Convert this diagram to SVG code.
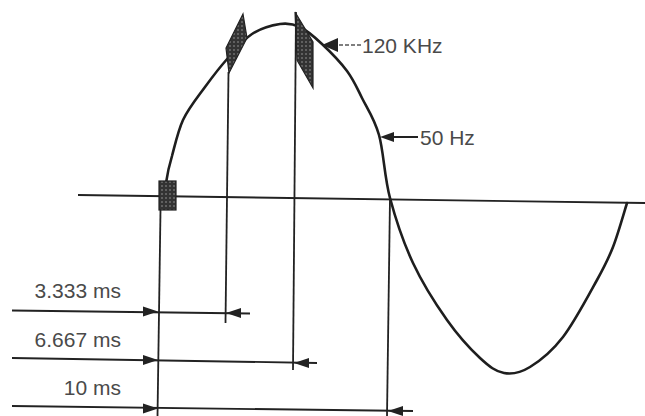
<svg xmlns="http://www.w3.org/2000/svg" width="645" height="416" viewBox="0 0 645 416">
<style>
.ln{stroke:#222;stroke-width:1.8;fill:none}
.wave{stroke:#1e1e1e;stroke-width:2.6;fill:none;stroke-linecap:round}
.hatch{fill:url(#dots);stroke:#222;stroke-width:1.2}
.lbl{font-family:"Liberation Sans",Arial,sans-serif;font-size:21px;fill:#4a4a4a}
.ah{fill:#222}
</style>
<defs>
<pattern id="dots" width="4" height="4" patternUnits="userSpaceOnUse">
<rect width="4" height="4" fill="#333"/>
<circle cx="2" cy="2" r="0.8" fill="#999"/>
</pattern>
</defs>
<rect width="645" height="416" fill="#fff"/>
<g id="axis"><line class="ln" x1="78" y1="195" x2="645" y2="203"/></g>
<g id="wave">
<path class="wave" d="M166,183 C167,176 169,166 172,156 C175,145 178,131 183,120 C188.5,108.2 197.5,97.3 205,87 C212.5,76.7 220.2,66.8 228,58 C235.8,49.2 243.3,39.7 252,34 C260.7,28.3 272,25.2 280,24 C288,22.8 293,23.7 300,27 C307,30.3 314.2,36.7 322,44 C329.8,51.3 340.3,62 347,71 C353.7,80 356.7,87.3 362,98 C367.3,108.7 374.3,118.3 379,135 C383.7,151.7 384.3,176.7 390,198 C395.7,219.3 403.5,242.7 413,263 C422.5,283.3 435.8,304.2 447,320 C458.2,335.8 470.5,349.2 480,358 C489.5,366.8 495.7,371.5 504,373 C512.3,374.5 520.2,373 530,367 C539.8,361 551.8,351.5 563,337 C574.2,322.5 588.7,295 597,280 C605.3,265 608,259.8 613,247 C618,234.2 624.7,210.3 627,203"/>
</g>
<g id="marker-start"><rect class="hatch" x="159" y="181" width="17" height="29"/></g>
<g id="marker-1"><polygon class="hatch" points="243,14 247,38 229,73 226,48"/></g>
<g id="marker-2"><polygon class="hatch" points="295,12 313,42 313,88 297,60"/></g>
<g id="label-120khz">
<text class="lbl" x="362" y="53">120 KHz</text>
</g>
<g id="label-50hz">
<text class="lbl" x="420" y="145">50 Hz</text>
</g>
<g id="label-3333"><text class="lbl" x="121" y="298" text-anchor="end">3.333 ms</text></g>
<g id="label-6667"><text class="lbl" x="121" y="347" text-anchor="end">6.667 ms</text></g>
<g id="label-10"><text class="lbl" x="121" y="395" text-anchor="end">10 ms</text></g>
<g id="connectors">
<line class="ln" x1="160.5" y1="210" x2="157.5" y2="416"/>
<line class="ln" x1="228.5" y1="72" x2="225.5" y2="323"/>
<line class="ln" x1="296" y1="12" x2="293" y2="370"/>
<line class="ln" x1="390" y1="198" x2="387" y2="416"/>
<line class="ln" x1="12" y1="310.5" x2="250" y2="313.5"/>
<line class="ln" x1="12" y1="358" x2="317" y2="363"/>
<line class="ln" x1="12" y1="406" x2="413" y2="411"/>
<polygon class="ah" points="158,311.5 143,306.5 143,316.5"/>
<polygon class="ah" points="158,360 143,355 143,365"/>
<polygon class="ah" points="158,408.5 143,403.5 143,413.5"/>
<polygon class="ah" points="226,313 241,308 241,318"/>
<polygon class="ah" points="294,363 309,358 309,368"/>
<polygon class="ah" points="388,411 403,406 403,416"/>
<line x1="333" y1="45" x2="361" y2="45" stroke="#555" stroke-width="1.6" stroke-dasharray="4 2"/>
<polygon class="ah" points="322,45 338,38 338,52"/>
<line class="ln" x1="385" y1="137" x2="418" y2="137"/>
<polygon class="ah" points="380,137 394,132 394,142"/>
</g>
</svg>
